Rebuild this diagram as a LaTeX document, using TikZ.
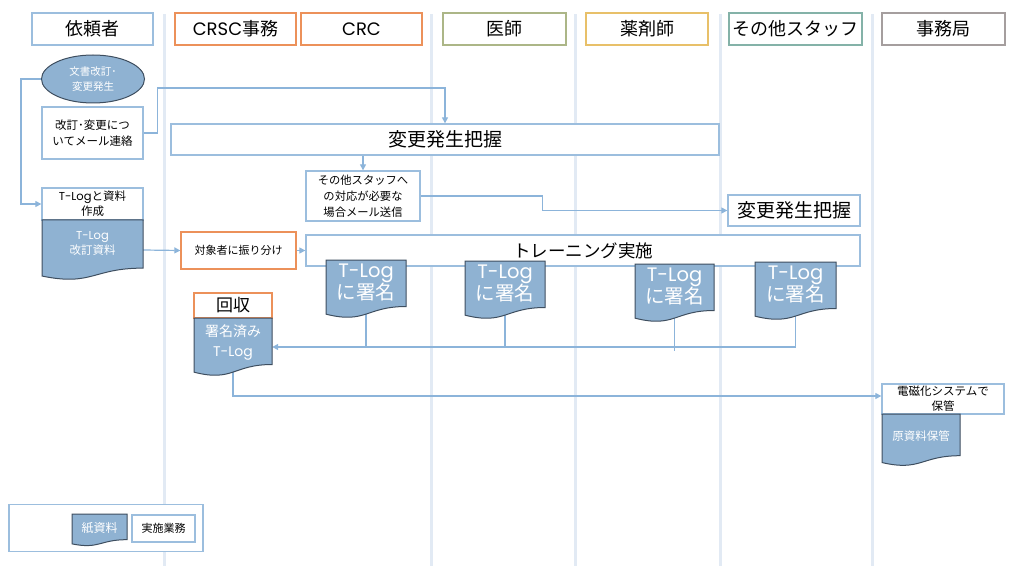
\documentclass[tikz,border=0pt]{standalone}
\usepackage{fontspec}
\setmainfont{Noto Sans CJK JP}
\newfontfamily\lat{Poppins}
\usetikzlibrary{arrows.meta,calc,shapes.geometric}
\definecolor{boxblue}{RGB}{156,190,222}
\definecolor{lineblue}{RGB}{140,180,218}
\definecolor{lanecol}{RGB}{226,234,244}
\definecolor{docblue}{RGB}{143,178,210}
\definecolor{docedge}{RGB}{62,78,95}
\definecolor{orng}{RGB}{236,145,90}
\definecolor{olive}{RGB}{172,182,135}
\definecolor{gold}{RGB}{232,192,105}
\definecolor{teal}{RGB}{132,178,168}
\definecolor{grayb}{RGB}{165,158,158}
\pgfdeclarelayer{conn}
\pgfsetlayers{conn,main}
\tikzset{
  hdr/.style={draw=#1, line width=1.4pt, fill=white, minimum height=32pt, inner sep=0pt, font=\fontsize{18}{20}\selectfont},
  actbox/.style={draw=boxblue, line width=1.3pt, fill=white, align=center, inner sep=0pt},
  orbox/.style={draw=orng, line width=1.3pt, fill=white, align=center, inner sep=0pt},
  docnode/.style={align=center, text=white, inner sep=0pt},
  docfill/.style={fill=docblue, draw=docedge, line width=1pt},
  conn/.style={draw=lineblue, line width=1.2pt},
  arr/.style={conn, -{Triangle[length=6pt,width=6pt]}},
  lane/.style={draw=lanecol, line width=3pt},
}
\newcommand\mkdoc[7]{%
  \pgfmathsetmacro\dxa{#2-#4/2}\pgfmathsetmacro\dxb{#2+#4/2}%
  \pgfmathsetmacro\dya{#3-#5/2}%
  \pgfmathsetmacro\dyr{#3-#5/2+0.802*#5}%
  \pgfmathsetmacro\dyc{#3-#5/2+1.107*#5}%
  \pgfmathsetmacro\dyl{#3-#5/2+0.934*#5}%
  \path[docfill] (\dxa,\dya) -- (\dxb,\dya) -- (\dxb,\dyr) .. controls (#2,\dyr) and (#2,\dyc) .. (\dxa,\dyl) -- cycle;
  \node[docnode, minimum width=#4pt, minimum height=#5pt, #7] (#1) at (#2,#3) {#6};}
\begin{document}
\begin{tikzpicture}[x=1pt,y=-1pt]
\useasboundingbox (0,0) rectangle (1024,569);
% headers
\node[hdr=boxblue, minimum width=121pt] (h1) at (92.5,29) {依頼者};
\node[hdr=orng, minimum width=121pt] (h2) at (235.5,29) {{\lat CRSC}事務};
\node[hdr=orng, minimum width=121pt] (h3) at (361.5,29) {\lat CRC};
\node[hdr=olive, minimum width=123pt] (h4) at (504.5,29) {医師};
\node[hdr=gold, minimum width=122pt] (h5) at (647,29) {薬剤師};
\node[hdr=teal, minimum width=133pt] (h6) at (795.5,29) {その他スタッフ};
\node[hdr=grayb, minimum width=123pt] (h7) at (943.5,29) {事務局};
% requester column
\node[ellipse, fill=docblue, draw=docedge, line width=1pt, minimum width=103pt, minimum height=48pt, inner sep=0pt, text=white, align=center, font=\fontsize{10.5}{15}\selectfont] (start) at (93,79) {文書改訂･\\変更発生};
\node[actbox, minimum width=101pt, minimum height=52pt, font=\fontsize{11.5}{16}\selectfont] (mail) at (92.5,133) {改訂･変更につ\\いてメール連絡};
\node[actbox, minimum width=101pt, minimum height=32pt, font=\fontsize{11.5}{15}\selectfont] (tlogbox) at (92.5,204) {{\lat T-Log}と資料\\作成};
\mkdoc{tlogdoc}{92.5}{250}{101}{60}{{\lat T-Log}\\改訂資料}{font=\fontsize{11.5}{15}\selectfont, text depth=14pt}
% main boxes
\node[actbox, minimum width=548pt, minimum height=31pt, font=\fontsize{19}{22}\selectfont] (henko1) at (445,139.5) {変更発生把握};
\node[actbox, minimum width=114pt, minimum height=50pt, font=\fontsize{11.3}{16}\selectfont] (sonota) at (363,196) {その他スタッフへ\\の対応が必要な\\場合メール送信};
\node[actbox, minimum width=132pt, minimum height=31pt, font=\fontsize{19}{22}\selectfont] (henko2) at (794,210.5) {変更発生把握};
\node[orbox, minimum width=115pt, minimum height=37pt, font=\fontsize{11}{15}\selectfont] (taisho) at (238.5,250.5) {対象者に振り分け};
\node[actbox, minimum width=554pt, minimum height=31pt, font=\fontsize{17.5}{21}\selectfont] (training) at (583,250.5) {トレーニング実施};
% sign docs
\mkdoc{s1}{366}{289}{80}{58}{{\lat T-Log}\\に署名}{font=\fontsize{19.5}{22}\selectfont, text depth=14pt}
\mkdoc{s2}{505}{290}{80}{58}{{\lat T-Log}\\に署名}{font=\fontsize{19.5}{22}\selectfont, text depth=14pt}
\mkdoc{s3}{674.5}{293}{79}{58}{{\lat T-Log}\\に署名}{font=\fontsize{19.5}{22}\selectfont, text depth=14pt}
\mkdoc{s4}{795.5}{291}{81}{58}{{\lat T-Log}\\に署名}{font=\fontsize{19.5}{22}\selectfont, text depth=14pt}
% collect
\node[orbox, minimum width=78pt, minimum height=25pt, font=\fontsize{17}{20}\selectfont] (kaishu) at (233,305.5) {回収};
\mkdoc{signed}{233}{347}{78}{58}{署名済み\\{\lat T-Log}}{font=\fontsize{14}{20}\selectfont, text depth=12pt}
% office
\node[actbox, minimum width=122pt, minimum height=30pt, font=\fontsize{11.5}{15}\selectfont] (denji) at (943,399) {電磁化システムで\\保管};
\mkdoc{genshi}{921}{440}{78}{52}{原資料保管}{font=\fontsize{11.5}{15}\selectfont, text depth=8pt}
% legend
\node[draw=boxblue, line width=1.3pt, fill=white, minimum width=194pt, minimum height=47pt, inner sep=0pt] (legend) at (106,528) {};
\mkdoc{legdoc}{99.5}{530}{55}{32}{紙資料}{font=\fontsize{12}{15}\selectfont, text depth=6pt}
\node[actbox, minimum width=63pt, minimum height=27pt, font=\fontsize{11}{14}\selectfont] (legbox) at (163.5,528.5) {実施業務};
% connectors
\begin{pgfonlayer}{conn}
\foreach \lx in {164,431,575,720,872} \draw[lane] (\lx,14) -- (\lx,566);
\draw[arr] (start.west) -- ++(-20,0) |- (tlogbox.west);
\draw[arr] (mail.east) -- ++(14,0) -- ++(0,-45) -| (henko1.north);
\draw[arr] (henko1.south -| sonota.north) -- (sonota.north);
\draw[arr] (sonota.east) -- ++(122,0) |- (henko2.west);
\draw[arr] (tlogdoc.east) -- (taisho.west);
\draw[arr] (taisho.east) -- (training.west);
\draw[conn] (s1.center) -- (s1.center |- signed.east);
\draw[conn] (s2.center) -- (s2.center |- signed.east);
\draw[conn] (s3.center) -- ([yshift=-4pt]s3.center |- signed.east);
\draw[arr] (s4.center) |- (signed.east);
\draw[arr] (signed.center) |- ([yshift=3pt]denji.west);
\end{pgfonlayer}
\end{tikzpicture}
\end{document}
